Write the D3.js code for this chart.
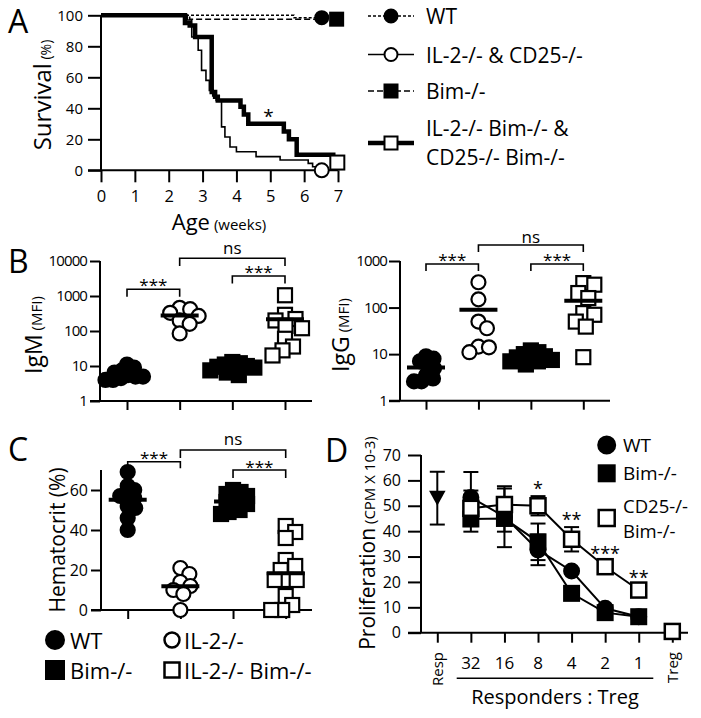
<!DOCTYPE html>
<html><head><meta charset="utf-8">
<script src="https://cdn.jsdelivr.net/npm/d3@7"></script>
<style>
html,body{margin:0;padding:0;background:#fff;}
svg{display:block;}
</style></head><body>
<svg id="chart" width="701" height="718"></svg>
<script>
// ================= DATA =================
// Panel A – Kaplan-Meier survival (age in weeks, % surviving)
const survWT_weeks = [0, 5.7, 6.52];
const survWT_pct = [100, 98.5, 98.5];
const survBim_weeks = [0, 2.62, 6.96];
const survBim_pct = [100, 97.5, 97.5];
const survIL2_weeks = [0, 2.55, 2.68, 2.87, 2.97, 3.1, 3.2, 3.3, 3.4, 3.56, 3.66, 3.81, 4.0, 4.58, 5.29, 6.12, 6.25, 6.4, 6.52];
const survIL2_pct = [100, 97, 86, 77.5, 64.5, 58, 51.5, 48, 45, 28, 21.5, 15, 12, 8.8, 6.6, 4.5, 2.3, 1, 0];
const survIL2Bim_weeks = [0, 2.48, 2.62, 2.78, 3.27, 3.37, 3.45, 4.12, 4.22, 4.35, 5.4, 5.55, 5.78, 6.86, 6.98];
const survIL2Bim_pct = [100, 95, 93.5, 86, 50.5, 47.5, 45, 41, 36, 30, 25, 20, 10, 5, 5];
const ageTicks = [0, 1, 2, 3, 4, 5, 6, 7];
const survTicks = [0, 20, 40, 60, 80, 100];
const legendA = ["WT", "IL-2-/- & CD25-/-", "Bim-/-", "IL-2-/- Bim-/- &", "CD25-/- Bim-/-"];

// Panels B & C – groups
const groups = ["WT", "IL-2-/-", "Bim-/-", "IL-2-/- Bim-/-"];
const igmWT = [11, 9, 7.5, 6.5, 5.5, 5, 4.5, 4, 4, 5];
const igmIL2 = [460, 420, 330, 270, 200, 160, 85];
const igmBim = [13, 12, 11, 10, 9.5, 9, 8, 7.5, 6.5, 5.5];
const igmIL2Bim = [1050, 290, 220, 200, 140, 120, 60, 36, 28, 20];
const igmTicks = [1, 10, 100, 1000, 10000];

const iggWT = [9, 8, 7, 6, 5, 3.5, 3, 2.6, 2.6];
const iggIL2 = [350, 150, 50, 36, 14.5, 11, 14];
const iggBim = [12, 11, 10, 9, 8.5, 8, 7.5, 7, 6, 7];
const iggIL2Bim = [335, 310, 205, 160, 76, 70, 50, 39, 8.6];
const iggTicks = [1, 10, 100, 1000];

const hctWT = [69, 62, 60, 58, 57, 56, 52, 51, 46, 40];
const hctIL2 = [21, 18, 14, 12, 10, 8, 0];
const hctBim = [60, 59, 58, 57, 56, 55, 54, 53, 52, 50, 49, 48];
const hctIL2Bim = [42, 39, 36, 25, 22, 20, 15, 15, 15, 7, 2.5, 0, 0];
const hctTicks = [0, 20, 40, 60];

// Panel D – suppression assay
const ratioLabels = ["Resp", "32", "16", "8", "4", "2", "1", "Treg"];
const ratios = ["32", "16", "8", "4", "2", "1"];
const respMean = [53];
const respSem = [10.4];
const wtProl = [53.3, 45.7, 32.6, 24.3, 9.6, 6.3];
const wtSem = [10, 12, 6, 1, 1, 0.5];
const bimProl = [44.8, 45, 35.8, 15.5, 7.9, 6.3];
const bimSem = [5, 5.2, 7.2, 1, 0.8, 0.5];
const cd25BimProl = [49, 50.5, 50, 36.8, 26, 16.8];
const cd25BimSem = [7, 6.3, 3.8, 4.8, 1, 1];
const tregProl = [0.5];
const sigD = ["", "", "*", "**", "***", "**"];
const prolTicks = [0, 10, 20, 30, 40, 50, 60, 70];

// ================= DRAWING =================
const F = "'Open Sans', 'DejaVu Sans', sans-serif";
const svg = d3.select("#chart").attr("font-family", F);
svg.append("rect").attr("width", 701).attr("height", 718).attr("fill", "#fff");

function line(g, x1, y1, x2, y2, w) {
  g.append("line").attr("x1", x1).attr("y1", y1).attr("x2", x2).attr("y2", y2)
    .attr("stroke", "#000").attr("stroke-width", w || 2);
}
function txt(g, x, y, s, size, anchor, extra) {
  const t = g.append("text").attr("x", x).attr("y", y).text(s)
    .attr("font-size", size).attr("text-anchor", anchor || "start").attr("fill", "#000");
  if (extra) extra(t);
  return t;
}
function styleAxis(g, size, spacing) {
  g.select(".domain").remove();
  g.attr("font-family", F).attr("font-size", size);
  g.selectAll(".tick line").attr("stroke", "#000").attr("stroke-width", 2);
  g.selectAll(".tick text").attr("fill", "#000");
  if (spacing) g.selectAll(".tick text").attr("letter-spacing", spacing);
}
function marker(g, type, x, y, size, filled, sw) {
  if (type === "circle") {
    g.append("circle").attr("cx", x).attr("cy", y).attr("r", size)
      .attr("fill", filled ? "#000" : "#fff").attr("stroke", "#000").attr("stroke-width", sw || 2);
  } else if (type === "square") {
    g.append("rect").attr("x", x - size / 2).attr("y", y - size / 2).attr("width", size).attr("height", size)
      .attr("fill", filled ? "#000" : "#fff").attr("stroke", "#000").attr("stroke-width", sw || 2);
  } else if (type === "tri") {
    const h = size;
    g.append("path").attr("d", `M${x - h * 0.55},${y - h * 0.5}L${x + h * 0.55},${y - h * 0.5}L${x},${y + h * 0.5}Z`)
      .attr("fill", "#000");
  }
}
function stars(g, x, cy, s, size) {
  return txt(g, x, cy + size * 0.6, s, size, "middle");
}
function bracket(g, x1, x2, y, leg, label, labelY, size) {
  g.append("path").attr("d", `M${x1},${y + leg}V${y}H${x2}V${y + leg}`)
    .attr("fill", "none").attr("stroke", "#000").attr("stroke-width", 1.6);
  if (label === "ns") txt(g, (x1 + x2) / 2, labelY, "ns", 17, "middle", t => t.attr("dominant-baseline", "central"));
  else stars(g, (x1 + x2) / 2, labelY, label, size || 17);
}

// ---------- Panel A ----------
{
  const g = svg.append("g");
  const x = d3.scaleLinear().domain([0, 7]).range([101, 338]);
  const y = d3.scaleLinear().domain([0, 100]).range([170.3, 15.3]);
  const gy = g.append("g").attr("transform", "translate(101,0)")
    .call(d3.axisLeft(y).tickValues(survTicks).tickSize(13).tickPadding(5));
  styleAxis(gy, 15);
  const gx = g.append("g").attr("transform", "translate(0,170.3)")
    .call(d3.axisBottom(x).tickValues(ageTicks).tickSize(12).tickPadding(8).tickFormat(d3.format("d")));
  styleAxis(gx, 16.5);
  line(g, 101, 15.3, 101, 170.3);
  line(g, 88, 170.3, 338, 170.3);

  const mk = (w, p) => d3.line().x(d => x(d[0])).y(d => y(d[1])).curve(d3.curveStepAfter)(d3.zip(w, p));
  g.append("path").attr("d", mk(survIL2_weeks, survIL2_pct)).attr("fill", "none").attr("stroke", "#000").attr("stroke-width", 1.6);
  g.append("path").attr("d", mk(survIL2Bim_weeks, survIL2Bim_pct)).attr("fill", "none").attr("stroke", "#000").attr("stroke-width", 4.5);
  g.append("path").attr("d", mk(survWT_weeks, survWT_pct)).attr("fill", "none").attr("stroke", "#000").attr("stroke-width", 1.5).attr("stroke-dasharray", "3,2");
  g.append("path").attr("d", mk(survBim_weeks, survBim_pct)).attr("fill", "none").attr("stroke", "#000").attr("stroke-width", 1.5).attr("stroke-dasharray", "6,3");
  const last = (w, p) => [x(w[w.length - 1]), y(p[p.length - 1])];
  let [a, b] = last(survWT_weeks, survWT_pct); marker(g, "circle", a, b, 6.5, true);
  [a, b] = last(survBim_weeks, survBim_pct); marker(g, "square", a, b, 13, true);
  [a, b] = last(survIL2_weeks, survIL2_pct); marker(g, "circle", a, b, 7, false, 2);
  [a, b] = last(survIL2Bim_weeks, survIL2Bim_pct); marker(g, "square", a, b, 14, false, 2);
  stars(g, x(4.95), y(38), "*", 19);

  const ty = g.append("text").attr("transform", "translate(51,95) rotate(-90)").attr("text-anchor", "middle");
  ty.append("tspan").attr("font-size", 24).text("Survival");
  ty.append("tspan").attr("font-size", 14).text(" (%)");
  const tx = g.append("text").attr("x", 219).attr("y", 230).attr("text-anchor", "middle");
  tx.append("tspan").attr("font-size", 22).text("Age");
  tx.append("tspan").attr("font-size", 15).text(" (weeks)");

  const lg = svg.append("g");
  const rows = [
    { y: 16, dash: "3,2", w: 1.5, t: "circle", f: true, s: 6.5 },
    { y: 54.5, dash: null, w: 1.6, t: "circle", f: false, s: 6.5 },
    { y: 91, dash: "6,3", w: 1.5, t: "square", f: true, s: 13 },
    { y: 143, dash: null, w: 4.5, t: "square", f: false, s: 13 }
  ];
  rows.forEach(r => {
    const l = lg.append("line").attr("x1", 368).attr("x2", 414).attr("y1", r.y).attr("y2", r.y)
      .attr("stroke", "#000").attr("stroke-width", r.w);
    if (r.dash) l.attr("stroke-dasharray", r.dash);
    marker(lg, r.t, 391, r.y, r.s, r.f, 2);
  });
  const ly = [16, 54.5, 91, 128, 157];
  legendA.forEach((s, i) => txt(lg, 426, ly[i], s, 21, "start", t => t.attr("dominant-baseline", "central")));
}

// ---------- scatter helpers ----------
function swarm(values, yScale, cx, minDist) {
  const pts = values.map(v => ({ v, y: yScale(v), x: cx }));
  const order = pts.slice().sort((p, q) => p.y - q.y);
  const placed = [];
  order.forEach(p => {
    for (let k = 0; k < 200; k += 0.5) {
      let ok = null;
      for (const dx of (k === 0 ? [0] : [k, -k])) {
        const xx = cx + dx;
        if (placed.every(q => (q.x - xx) ** 2 + (q.y - p.y) ** 2 >= minDist * minDist)) { ok = xx; break; }
      }
      if (ok !== null) { p.x = ok; break; }
    }
    placed.push(p);
  });
  return pts;
}
function scatterGroup(g, values, yScale, cx, type, filled) {
  const sz = type === "circle" ? 7 : 14;
  const md = filled ? (type === "circle" ? 7.5 : 7.5) : (type === "circle" ? 10.5 : 11);
  const pts = swarm(values, yScale, cx, md);
  pts.forEach(p => marker(g, type, p.x, p.y, sz, filled, 2.2));
  const m = d3.mean(values);
  line(g, cx - 19, yScale(m), cx + 19, yScale(m), 4);
}
function catAxis(g, xScale, y, x1, x2) {
  const ax = g.append("g").attr("transform", `translate(0,${y})`)
    .call(d3.axisBottom(xScale).tickSize(9).tickFormat(""));
  styleAxis(ax, 10);
  line(g, x1, y, x2, y);
}
const types = [["circle", true], ["circle", false], ["square", true], ["square", false]];

// ---------- Panel B: IgM ----------
{
  const g = svg.append("g");
  const y = d3.scaleLog().domain([1, 10000]).range([401, 261]);
  const x = d3.scalePoint().domain(groups).range([127, 285]);
  const gy = g.append("g").attr("transform", "translate(100,0)")
    .call(d3.axisLeft(y).tickValues(igmTicks).tickSize(10).tickPadding(3).tickFormat(d3.format("d")));
  styleAxis(gy, 15, -0.9);
  line(g, 100, 261, 100, 401);
  catAxis(g, x, 401, 90, 312);
  [igmWT, igmIL2, igmBim, igmIL2Bim].forEach((vals, i) => scatterGroup(g, vals, y, x(groups[i]), types[i][0], types[i][1]));
  bracket(g, x(groups[0]), x(groups[1]), 289.3, 7.5, "***", 281);
  bracket(g, x(groups[2]), x(groups[3]), 276, 7.5, "***", 267.5);
  bracket(g, x(groups[1]), x(groups[3]), 258.3, 7.7, "ns", 247);
  const ty = g.append("text").attr("transform", "translate(42,335) rotate(-90)").attr("text-anchor", "middle");
  ty.append("tspan").attr("font-size", 23).text("IgM");
  ty.append("tspan").attr("font-size", 15).text(" (MFI)");
}
// ---------- Panel B: IgG ----------
{
  const g = svg.append("g");
  const y = d3.scaleLog().domain([1, 1000]).range([400.7, 261]);
  const x = d3.scalePoint().domain(groups).range([426, 583.3]);
  const gy = g.append("g").attr("transform", "translate(400,0)")
    .call(d3.axisLeft(y).tickValues(iggTicks).tickSize(11).tickPadding(2).tickFormat(d3.format("d")));
  styleAxis(gy, 15, -0.9);
  line(g, 400, 261, 400, 400.7);
  catAxis(g, x, 400.7, 389, 610);
  [iggWT, iggIL2, iggBim, iggIL2Bim].forEach((vals, i) => scatterGroup(g, vals, y, x(groups[i]), types[i][0], types[i][1]));
  bracket(g, x(groups[0]), x(groups[1]), 264, 7, "***", 256);
  bracket(g, x(groups[2]), x(groups[3]), 264, 7, "***", 256);
  bracket(g, x(groups[1]), x(groups[3]), 245, 7, "ns", 236.5);
  const ty = g.append("text").attr("transform", "translate(349,335) rotate(-90)").attr("text-anchor", "middle");
  ty.append("tspan").attr("font-size", 23).text("IgG");
  ty.append("tspan").attr("font-size", 15).text(" (MFI)");
}
// ---------- Panel C: Hematocrit ----------
{
  const g = svg.append("g");
  const y = d3.scaleLinear().domain([0, 70]).range([610, 470]);
  const x = d3.scalePoint().domain(groups).range([127.7, 285.7]);
  const gy = g.append("g").attr("transform", "translate(101,0)")
    .call(d3.axisLeft(y).tickValues(hctTicks).tickSize(10).tickPadding(3));
  styleAxis(gy, 16);
  line(g, 101, 470, 101, 610);
  catAxis(g, x, 610, 91, 312);
  [hctWT, hctIL2, hctBim, hctIL2Bim].forEach((vals, i) => scatterGroup(g, vals, y, x(groups[i]), types[i][0], types[i][1]));
  bracket(g, x(groups[0]), x(groups[1]), 461.7, 6.5, "***", 453.5);
  bracket(g, x(groups[2]), x(groups[3]), 470, 8, "***", 462.5);
  bracket(g, x(groups[1]), x(groups[3]), 450, 8, "ns", 438);
  g.append("text").attr("transform", "translate(65,540) rotate(-90)").attr("text-anchor", "middle")
    .attr("font-size", 21).text("Hematocrit (%)");
  const lg = svg.append("g");
  marker(lg, "circle", 55, 640, 9, true);
  marker(lg, "circle", 172, 640, 7.5, false, 2.5);
  marker(lg, "square", 55, 670, 18, true, 0);
  marker(lg, "square", 172, 670, 15, false, 2.5);
  const ct = [[70, 640, groups[0]], [184, 640, groups[1]], [70, 670, groups[2]], [184, 670, groups[3]]];
  ct.forEach(c => txt(lg, c[0], c[1], c[2], 22, "start", t => t.attr("dominant-baseline", "central")));
}
// ---------- Panel D: Proliferation ----------
{
  const g = svg.append("g");
  const x = d3.scalePoint().domain(ratioLabels).range([437.3, 672.3]);
  const y = d3.scaleLinear().domain([0, 70]).range([632.7, 455]);
  const gy = g.append("g").attr("transform", "translate(421,0)")
    .call(d3.axisLeft(y).tickValues(prolTicks).tickSize(13).tickPadding(7));
  styleAxis(gy, 16);
  line(g, 421, 455, 421, 632.7);
  line(g, 408, 632.7, 688, 632.7);
  const gx = g.append("g").attr("transform", "translate(0,632.7)")
    .call(d3.axisBottom(x).tickSize(10).tickFormat(""));
  styleAxis(gx, 10);
  ratioLabels.forEach(l => {
    if (l === "Resp" || l === "Treg") {
      g.append("text").attr("transform", `translate(${x(l) + 5.5},652) rotate(-90)`)
        .attr("text-anchor", "end").attr("font-size", 15).text(l);
    } else {
      txt(g, x(l), 662, l, 17, "middle", t => t.attr("dominant-baseline", "central"));
    }
  });
  line(g, 456.7, 678.3, 653.3, 678.3, 1.5);
  txt(g, 555, 704, "Responders : Treg", 20, "middle");

  const errbar = (xx, m, e) => {
    line(g, xx, y(m - e), xx, y(m + e), 2);
    line(g, xx - 7.5, y(m + e), xx + 7.5, y(m + e), 2);
    line(g, xx - 7.5, y(m - e), xx + 7.5, y(m - e), 2);
  };
  errbar(x("Resp"), respMean[0], respSem[0]);
  [[wtProl, wtSem], [bimProl, bimSem], [cd25BimProl, cd25BimSem]].forEach(([v, e]) =>
    ratios.forEach((r, i) => errbar(x(r), v[i], e[i])));
  const ln = d3.line().x(d => x(d[0])).y(d => y(d[1]));
  [wtProl, bimProl, cd25BimProl].forEach(v =>
    g.append("path").attr("d", ln(d3.zip(ratios, v))).attr("fill", "none").attr("stroke", "#000").attr("stroke-width", 2));
  marker(g, "tri", x("Resp"), y(respMean[0]), 15, true);
  ratios.forEach((r, i) => marker(g, "circle", x(r), y(wtProl[i]), 7.5, true));
  ratios.forEach((r, i) => marker(g, "square", x(r), y(bimProl[i]), 15, true, 0));
  ratios.forEach((r, i) => marker(g, "square", x(r), y(cd25BimProl[i]), 15, false, 2.5));
  marker(g, "square", x("Treg"), y(tregProl[0]), 15, false, 2.5);
  ratios.forEach((r, i) => {
    if (!sigD[i]) return;
    const cy = Math.min(y(cd25BimProl[i] + cd25BimSem[i]) - 12, y(cd25BimProl[i]) - 17);
    stars(g, x(r), cy, sigD[i], 18);
  });
  const ty = g.append("text").attr("transform", "translate(375,543) rotate(-90)").attr("text-anchor", "middle");
  ty.append("tspan").attr("font-size", 21).text("Proliferation");
  ty.append("tspan").attr("font-size", 15).text(" (CPM X 10-3)");
  const lg = svg.append("g");
  marker(lg, "circle", 606.7, 445, 8.5, true);
  marker(lg, "square", 606.7, 473.3, 16, true, 0);
  marker(lg, "square", 606.7, 518, 16, false, 2.5);
  [[445, "WT", 19], [473.3, "Bim-/-", 19], [505.5, "CD25-/-", 18.5], [530, "Bim-/-", 18.5]].forEach(d =>
    txt(lg, 623, d[0], d[1], d[2], "start", t => t.attr("dominant-baseline", "central")));
}

// ---------- panel letters ----------
[["A", 8, 33], ["B", 8, 273], ["C", 8, 461], ["D", 325, 462]].forEach(d =>
  txt(svg, d[1], d[2], d[0], 32, "start"));
</script>
</body></html>
